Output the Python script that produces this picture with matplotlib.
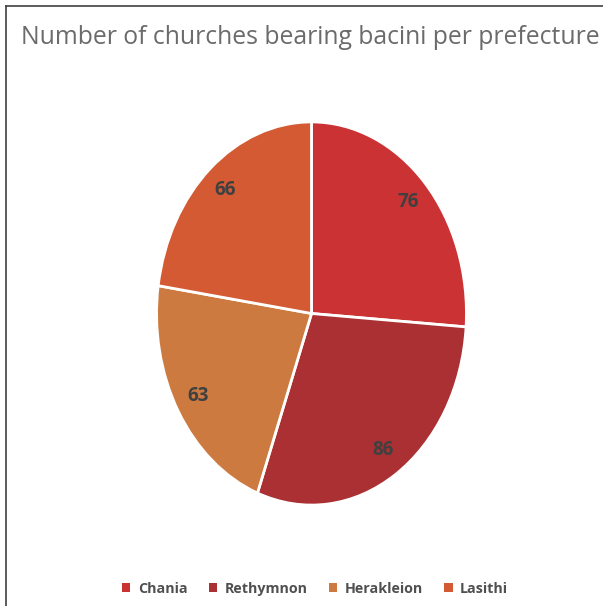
import matplotlib
matplotlib.use("Agg")
import matplotlib.pyplot as plt
from matplotlib.lines import Line2D
from matplotlib.patches import Patch

categories = ["Chania", "Rethymnon", "Herakleion", "Lasithi"]
values = [76, 86, 63, 66]
colors = ["#CB3234", "#AA3033", "#CD7A40", "#D45A33"]

W, H = 603, 606
fig = plt.figure(figsize=(W / 100, H / 100), dpi=100)
plt.rcParams['font.family'] = ['Open Sans', 'DejaVu Sans']

# pie axes (elliptical pie)
l, r, t, b = 155, 468, 120, 507
ax = fig.add_axes([l / W, 1 - b / H, (r - l) / W, (b - t) / H])
wedges, texts, autotexts = ax.pie(
    values, colors=colors, startangle=90, counterclock=False,
    autopct=lambda p: f"{p * sum(values) / 100:.0f}", pctdistance=0.85,
    wedgeprops=dict(edgecolor="white", linewidth=2),
    textprops=dict(color="#404040", fontsize=13.5, fontweight="bold"))
ax.set_aspect("auto")
ax.set_xlim(-1.01, 1.01)
ax.set_ylim(-1.01, 1.01)
ax.axis("off")

fig.text(310 / W, 1 - 38 / H, "Number of churches bearing bacini per prefecture",
         ha="center", va="center", fontsize=17.8, color="#6b6b6b")

handles = [Patch(facecolor=c, edgecolor="none") for c in colors]
fig.legend(handles, categories, loc="center", bbox_to_anchor=(315 / W, 1 - 589 / H),
           ncol=4, frameon=False, handlelength=0.6, handleheight=0.6,
           handletextpad=0.5, columnspacing=1.5,
           prop=dict(size=10.3, weight="bold"), labelcolor="#505050")

# border lines (left and top)
fig.add_artist(Line2D([6 / W, 6 / W], [0, 1 - 6 / H], transform=fig.transFigure,
                      color="#404040", linewidth=1.2))
fig.add_artist(Line2D([6 / W, 1], [1 - 6 / H, 1 - 6 / H], transform=fig.transFigure,
                      color="#404040", linewidth=1.2))

fig.savefig("out.png", dpi=100, facecolor="white")
